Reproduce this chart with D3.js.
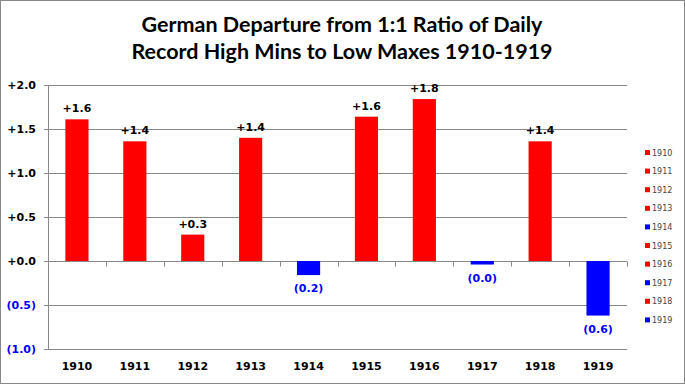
<!DOCTYPE html>
<html>
<head>
<meta charset="utf-8">
<script src="https://cdn.jsdelivr.net/npm/d3@7.9.0/dist/d3.min.js"></script>
<style>
  body { margin: 0; background: #fff; }
  svg { display: block; }
</style>
</head>
<body>
<div id="chart"></div>
<script>
// chart data
const years = ['1910', '1911', '1912', '1913', '1914', '1915', '1916', '1917', '1918', '1919'];
const departures = [1.61, 1.36, 0.30, 1.40, -0.16, 1.64, 1.84, -0.04, 1.36, -0.62];
const yTicks = [2.0, 1.5, 1.0, 0.5, 0.0, -0.5, -1.0];
const titleLines = ['German Departure from 1:1 Ratio of Daily', 'Record High Mins to Low Maxes 1910-1919'];

const width = 685;
const height = 384;
const plot = { left: 48, right: 627, top: 85, bottom: 349 };

const fmt = v => v >= 0 ? '+' + v.toFixed(1) : '(' + Math.abs(v).toFixed(1) + ')';
const colorOf = v => v >= 0 ? '#ff0000' : '#0000ff';

const svg = d3.select('#chart')
    .append('svg')
    .attr('width', width)
    .attr('height', height);

// outer border
svg.append('rect')
    .attr('x', 0.5).attr('y', 0.5)
    .attr('width', width - 1).attr('height', height - 1)
    .attr('fill', '#fff')
    .attr('stroke', '#888');

// title
svg.append('text')
    .attr('text-anchor', 'middle')
    .attr('font-family', 'Lato, "Open Sans", sans-serif')
    .attr('font-weight', 'bold')
    .attr('font-size', 21.5)
    .selectAll('tspan')
    .data(titleLines)
    .join('tspan')
    .attr('x', 342)
    .attr('y', (d, i) => 32 + i * 27)
    .text(d => d);

const xScale = d3.scaleBand()
    .domain(years)
    .range([plot.left, plot.right])
    .paddingInner(0.6)
    .paddingOuter(0.3);

const yScale = d3.scaleLinear()
    .domain([-1, 2])
    .range([plot.bottom, plot.top]);

// gridlines
svg.append('g')
    .selectAll('line')
    .data(yTicks)
    .join('line')
    .attr('x1', plot.left)
    .attr('x2', plot.right)
    .attr('y1', d => Math.round(yScale(d)) + 0.5)
    .attr('y2', d => Math.round(yScale(d)) + 0.5)
    .attr('stroke', '#888')
    .attr('stroke-width', 1);

// y axis
svg.append('line')
    .attr('x1', plot.left + 0.5).attr('x2', plot.left + 0.5)
    .attr('y1', plot.top).attr('y2', plot.bottom)
    .attr('stroke', '#888');

svg.append('g')
    .selectAll('line')
    .data(yTicks)
    .join('line')
    .attr('x1', plot.left - 4)
    .attr('x2', plot.left)
    .attr('y1', d => Math.round(yScale(d)) + 0.5)
    .attr('y2', d => Math.round(yScale(d)) + 0.5)
    .attr('stroke', '#888');

svg.append('g')
    .selectAll('text')
    .data(yTicks)
    .join('text')
    .attr('x', 36)
    .attr('y', d => yScale(d) + 4)
    .attr('text-anchor', 'end')
    .attr('font-family', 'Tahoma, "DejaVu Sans", sans-serif')
    .attr('font-weight', 'bold')
    .attr('font-size', 11)
    .attr('fill', d => d >= 0 ? '#000' : '#0000ff')
    .text(d => fmt(d));

// category ticks on zero line
const zeroY = Math.round(yScale(0)) + 0.5;
svg.append('g')
    .selectAll('line')
    .data(d3.range(1, years.length + 1))
    .join('line')
    .attr('x1', i => Math.round(plot.left + i * (plot.right - plot.left) / years.length) + 0.5)
    .attr('x2', i => Math.round(plot.left + i * (plot.right - plot.left) / years.length) + 0.5)
    .attr('y1', zeroY)
    .attr('y2', zeroY + 5)
    .attr('stroke', '#888');

// bars
svg.append('g')
    .selectAll('rect')
    .data(departures)
    .join('rect')
    .attr('x', (d, i) => xScale(years[i]))
    .attr('width', xScale.bandwidth())
    .attr('y', d => yScale(Math.max(0, d)))
    .attr('height', d => Math.abs(yScale(d) - yScale(0)))
    .attr('fill', d => colorOf(d));

// value labels
svg.append('g')
    .selectAll('text')
    .data(departures)
    .join('text')
    .attr('x', (d, i) => xScale(years[i]) + xScale.bandwidth() / 2)
    .attr('y', d => d >= 0 ? yScale(d) - 7 : yScale(d) + 17)
    .attr('text-anchor', 'middle')
    .attr('font-family', 'Tahoma, "DejaVu Sans", sans-serif')
    .attr('font-weight', 'bold')
    .attr('font-size', 11)
    .attr('fill', d => d >= 0 ? '#000' : '#0000ff')
    .text(d => fmt(d));

// x labels
svg.append('g')
    .selectAll('text')
    .data(years)
    .join('text')
    .attr('x', d => xScale(d) + xScale.bandwidth() / 2)
    .attr('y', 370)
    .attr('text-anchor', 'middle')
    .attr('font-family', 'Tahoma, "DejaVu Sans", sans-serif')
    .attr('font-weight', 'bold')
    .attr('font-size', 11)
    .attr('fill', '#000')
    .text(d => d);

// legend
const legend = svg.append('g')
    .selectAll('g')
    .data(years)
    .join('g')
    .attr('transform', (d, i) => `translate(645, ${153 + i * 18.6})`);

legend.append('rect')
    .attr('x', 0).attr('y', -3)
    .attr('width', 5).attr('height', 5)
    .attr('fill', (d, i) => colorOf(departures[i]));

legend.append('text')
    .attr('x', 7)
    .attr('y', 2.5)
    .attr('font-family', 'Tahoma, "DejaVu Sans", sans-serif')
    .attr('font-size', 8)
    .attr('fill', '#444')
    .text(d => d);
</script>
</body>
</html>
